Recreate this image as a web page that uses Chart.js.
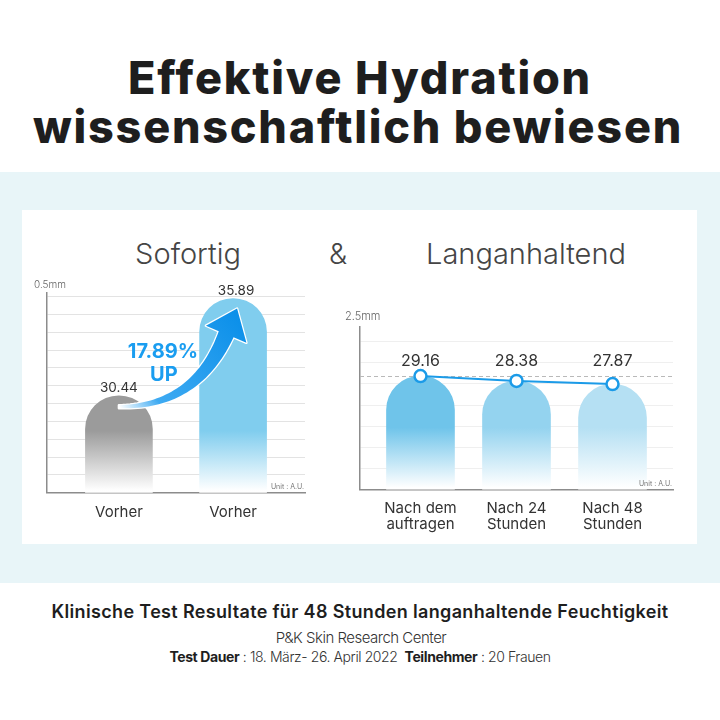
<!DOCTYPE html>
<html>
<head>
<meta charset="utf-8">
<script src="https://cdn.jsdelivr.net/npm/chart.js@4.4.1/dist/chart.umd.min.js"></script>
<style>
  body{margin:0;width:720px;height:720px;position:relative;overflow:hidden;background:#fff;font-family:Inter,"Open Sans",sans-serif;color:#1e1e1e}
  .abs{position:absolute}
  .c{transform:translateX(-50%);white-space:nowrap}
  #band{left:0;top:172px;width:720px;height:411px;background:#e8f5f8}
  #card{left:22px;top:210px;width:675px;height:334px;background:#fff}
  .t1{font-weight:800;font-size:45px;line-height:50px;top:0}
  .head{font-size:29px;font-weight:300;color:#454545;top:236px;line-height:36px}
  #left{left:22px;top:270px}
  #right{left:330px;top:300px}
  .foot1{top:600px;left:360px;font-size:18px;font-weight:600;line-height:24px}
  .foot2{top:629px;left:361px;font-size:15px;font-weight:300;color:#333;line-height:18px;letter-spacing:-0.5px}
  .foot3{top:648px;left:360px;font-size:14px;font-weight:300;color:#333;line-height:18px;letter-spacing:-0.4px}
  .foot3 b{font-weight:700;color:#1e1e1e}
</style>
</head>
<body>
<div id="band" class="abs"></div>
<div id="card" class="abs"></div>

<div class="abs c t1 fit" data-w="464" style="left:360px;top:53px">Effektive Hydration</div>
<div class="abs c t1 fit" data-w="650" style="left:358px;top:102px">wissenschaftlich bewiesen</div>

<div class="abs c head" style="left:188px">Sofortig</div>
<div class="abs c head" style="left:338px">&amp;</div>
<div class="abs c head" style="left:526px">Langanhaltend</div>

<canvas id="left" class="abs" width="298" height="270"></canvas>
<canvas id="right" class="abs" width="365" height="245"></canvas>

<div class="abs c foot1 fit" data-w="617">Klinische Test Resultate für 48 Stunden langanhaltende Feuchtigkeit</div>
<div class="abs c foot2">P&amp;K Skin Research Center</div>
<div class="abs c foot3"><b>Test Dauer</b> : 18. März- 26. April 2022&nbsp;&nbsp;<b>Teilnehmer</b> : 20 Frauen</div>

<script>
// --- data ---
const leftLabels = ['Vorher', 'Vorher'];
const leftValues = [30.44, 35.89];
const leftColors = ['#9b9b9b', '#80cdee'];
const leftGrid = [26, 27, 28, 29, 30, 31, 32, 33, 34, 35, 36];
const upText = ['17.89%', 'UP'];

const rightLabels = [['Nach dem', 'auftragen'], ['Nach 24', 'Stunden'], ['Nach 48', 'Stunden']];
const rightValues = [29.16, 28.38, 27.87];
const rightColors = ['#6fc4ea', '#94d3ef', '#b5e0f3'];
const rightGrid = [14.3, 17.7, 21.1, 24.5, 27.9, 31.3, 34.7];

const axisColor = '#8c8c8c';
const lineBlue = '#1b9be8';

// spread letters so a line fills the width of the original artwork
document.querySelectorAll('.fit').forEach(el => {
  const w = +el.dataset.w;
  const n = el.textContent.length;
  const diff = w - el.getBoundingClientRect().width;
  el.style.letterSpacing = (diff / n) + 'px';
});

function fade(colors){
  return ctx => {
    const chart = ctx.chart, a = chart.chartArea;
    const col = colors[ctx.dataIndex];
    if(!a) return col;
    const g = chart.ctx.createLinearGradient(0, a.bottom - 62, 0, a.bottom - 2);
    g.addColorStop(0, col);
    g.addColorStop(1, '#ffffff');
    return g;
  };
}

function smallTexts(chart, unit, unitText, ux, uy){
  const c = chart.ctx, a = chart.chartArea;
  c.save();
  c.fillStyle = '#666';
  c.font = '300 ' + unit + 'px Inter, sans-serif';
  c.textAlign = 'left';
  c.textBaseline = 'middle';
  c.fillText(unitText, a.left + ux, a.top + uy);
  c.font = '7px Inter, sans-serif';
  c.textAlign = 'right';
  c.fillStyle = '#777';
  c.fillText('Unit : A.U.', a.right - 1, a.bottom - 6);
  c.restore();
}

// arrow + labels on the left chart
const leftDeco = {
  id: 'leftDeco',
  afterDatasetsDraw(chart){
    const c = chart.ctx, x = chart.scales.x, y = chart.scales.y;
    smallTexts(chart, 10, '0.5mm', -13, -8);

    c.save();
    c.font = '13.5px Inter, sans-serif';
    c.fillStyle = '#333';
    c.textAlign = 'center';
    c.textBaseline = 'bottom';
    leftValues.forEach((v, i) => {
      c.fillText(v.toFixed(2), x.getPixelForValue(i) + (i ? 3 : 0), y.getPixelForValue(v) - 1);
    });

    // curved arrow from the first bar to the second
    const p0 = {x: x.getPixelForValue(0), y: y.getPixelForValue(leftValues[0]) + 11};
    const tip = {x: x.getPixelForValue(1) + 4, y: y.getPixelForValue(leftValues[1]) + 10};
    const dir = {x: 0.39, y: -0.92};
    const headLen = 28, headHalf = 22;
    const p2 = {x: tip.x - dir.x * headLen, y: tip.y - dir.y * headLen};
    const cp = {x: p0.x + 0.72 * (p2.x - p0.x), y: p0.y};
    const up = [], down = [];
    const N = 40;
    for(let k = 0; k <= N; k++){
      const t = k / N, mt = 1 - t;
      const bx = mt*mt*p0.x + 2*mt*t*cp.x + t*t*p2.x;
      const by = mt*mt*p0.y + 2*mt*t*cp.y + t*t*p2.y;
      let dx = 2*mt*(cp.x - p0.x) + 2*t*(p2.x - cp.x);
      let dy = 2*mt*(cp.y - p0.y) + 2*t*(p2.y - cp.y);
      const len = Math.hypot(dx, dy); dx /= len; dy /= len;
      const w = 1.5 + 6.5 * Math.pow(t, 1.1);
      up.push([bx + dy * w, by - dx * w]);
      down.push([bx - dy * w, by + dx * w]);
    }
    const nx = -dir.y, ny = dir.x;
    c.beginPath();
    c.moveTo(up[0][0], up[0][1]);
    up.forEach(p => c.lineTo(p[0], p[1]));
    c.lineTo(p2.x - nx * headHalf, p2.y - ny * headHalf);
    c.lineTo(tip.x, tip.y);
    c.lineTo(p2.x + nx * headHalf, p2.y + ny * headHalf);
    down.slice().reverse().forEach(p => c.lineTo(p[0], p[1]));
    c.closePath();
    const g = c.createLinearGradient(p0.x, p0.y, tip.x, tip.y);
    g.addColorStop(0, '#ffffff');
    g.addColorStop(0.22, '#3eaaf2');
    g.addColorStop(1, '#0a8fe9');
    c.lineJoin = 'round';
    c.lineWidth = 2.5;
    c.strokeStyle = '#ffffff';
    c.stroke();
    c.fillStyle = g;
    c.fill();

    c.font = 'bold 20px Inter, sans-serif';
    c.fillStyle = '#1a9df0';
    c.textBaseline = 'middle';
    c.fillText(upText[0], p0.x + 44, p0.y - 55);
    c.fillText(upText[1], p0.x + 45, p0.y - 32);
    c.restore();
  }
};

const rightDeco = {
  id: 'rightDeco',
  beforeDatasetsDraw(chart){
    const c = chart.ctx, a = chart.chartArea, y = chart.scales.y;
    const yy = Math.round(y.getPixelForValue(rightValues[0])) + 0.5;
    c.save();
    c.strokeStyle = '#b9b9b9';
    c.lineWidth = 1;
    c.setLineDash([4, 3]);
    c.beginPath();
    c.moveTo(a.left, yy);
    c.lineTo(a.right, yy);
    c.stroke();
    c.restore();
  },
  afterDatasetsDraw(chart){
    const c = chart.ctx, x = chart.scales.x, y = chart.scales.y;
    smallTexts(chart, 11, '2.5mm', -15, -10);
    const ly = y.getPixelForValue(Math.max(...rightValues)) - 15;
    c.save();
    c.font = '16px Inter, sans-serif';
    c.fillStyle = '#333';
    c.textAlign = 'center';
    c.textBaseline = 'middle';
    rightValues.forEach((v, i) => c.fillText(v.toFixed(2), x.getPixelForValue(i), ly));
    c.restore();
  }
};

function xAxis(labels, pad){
  return {
    type: 'linear',
    offset: false,
    min: -0.63,
    max: labels.length - 1 + 0.63,
    afterBuildTicks: s => { s.ticks = labels.map((l, i) => ({value: i})); },
    grid: {display: false, drawTicks: false, offset: false},
    border: {color: axisColor, width: 1.5},
    ticks: {
      autoSkip: false, maxRotation: 0, padding: pad,
      color: '#333', font: {size: 15, family: 'Inter', lineHeight: 1.08},
      callback: (v, i) => labels[i]
    }
  };
}

function yAxis(min, max, grid, gridColor){
  return {
    min: min, max: max,
    afterBuildTicks: s => { s.ticks = grid.map(v => ({value: v})); },
    ticks: {display: false},
    grid: {color: gridColor, lineWidth: 1, drawTicks: false},
    border: {color: axisColor, width: 1.5}
  };
}

new Chart('left', {
  type: 'bar',
  data: {
    datasets: [{
      data: leftValues.map((v, i) => ({x: i, y: v})),
      backgroundColor: fade(leftColors),
      borderRadius: 40,
      borderSkipped: 'start',
      barThickness: 67
    }]
  },
  options: {
    responsive: false,
    animation: false,
    events: [],
    layout: {padding: {left: 25, right: 15, top: 23, bottom: 7}},
    plugins: {legend: {display: false}, tooltip: {enabled: false}},
    scales: {
      x: xAxis(leftLabels, 12),
      y: yAxis(25, 36.2, leftGrid, '#e3e3e3')
    }
  },
  plugins: [leftDeco]
});

new Chart('right', {
  type: 'bar',
  data: {
    datasets: [{
      type: 'line',
      order: 0,
      data: rightValues.map((v, i) => ({x: i, y: v})),
      borderColor: lineBlue,
      borderWidth: 2,
      pointRadius: 6,
      pointBorderWidth: 2.5,
      pointBackgroundColor: '#fff',
      pointBorderColor: lineBlue
    }, {
      order: 1,
      data: rightValues.map((v, i) => ({x: i, y: v})),
      backgroundColor: fade(rightColors),
      borderRadius: 40,
      borderSkipped: 'start',
      barThickness: 68
    }]
  },
  options: {
    responsive: false,
    animation: false,
    events: [],
    layout: {padding: {left: 30, right: 22, top: 27, bottom: 1}},
    plugins: {legend: {display: false}, tooltip: {enabled: false}},
    scales: {
      x: xAxis(rightLabels, 11),
      y: yAxis(11, 37, rightGrid, '#efefef')
    }
  },
  plugins: [rightDeco]
});
</script>
</body>
</html>
